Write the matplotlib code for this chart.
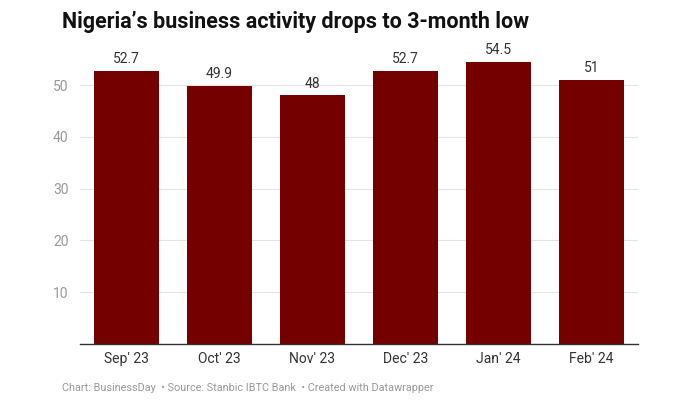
import matplotlib.pyplot as plt

months = ["Sep' 23", "Oct' 23", "Nov' 23", "Dec' 23", "Jan' 24", "Feb' 24"]
pmi = [52.7, 49.9, 48, 52.7, 54.5, 51]
labels = ["52.7", "49.9", "48", "52.7", "54.5", "51"]
yticks = [10, 20, 30, 40, 50]

plt.rcParams['font.family'] = ['Roboto', 'DejaVu Sans']

fig = plt.figure(figsize=(7, 4), dpi=100)
ax = fig.add_axes([0.114, 0.14, 0.797, 0.7225])

x = range(len(months))
ax.bar(x, pmi, width=0.7, color='#750000', zorder=3)
for i, v in enumerate(pmi):
    ax.text(i, v + 0.9, labels[i], ha='center', va='bottom', fontsize=10, color='#333333')

ax.set_xlim(-0.5, len(months) - 0.5)
ax.set_ylim(0, 55.8)
ax.set_yticks(yticks)
ax.set_yticklabels([str(t) for t in yticks], color='#999999', fontsize=10)
ax.set_xticks(list(x))
ax.set_xticklabels(months, fontsize=10, color='#333333')
ax.tick_params(axis='both', length=0)
ax.tick_params(axis='y', pad=8)
ax.tick_params(axis='x', pad=6)
ax.grid(axis='y', color='#e3e3e3', linewidth=0.8, zorder=0)
for s in ['top', 'right', 'left']:
    ax.spines[s].set_visible(False)
ax.spines['bottom'].set_color('#333333')
ax.spines['bottom'].set_linewidth(1)
ax.spines['bottom'].set_zorder(4)

fig.text(0.089, 0.945, "Nigeria\u2019s business activity drops to 3-month low",
         fontsize=15.5, fontweight='bold', color='#111111', va='center')
fig.text(0.089, 0.031,
         "Chart: BusinessDay  \u2022 Source: Stanbic IBTC Bank  \u2022 Created with Datawrapper",
         fontsize=7.8, color='#999999', va='center')

fig.savefig('out.png', dpi=100)
